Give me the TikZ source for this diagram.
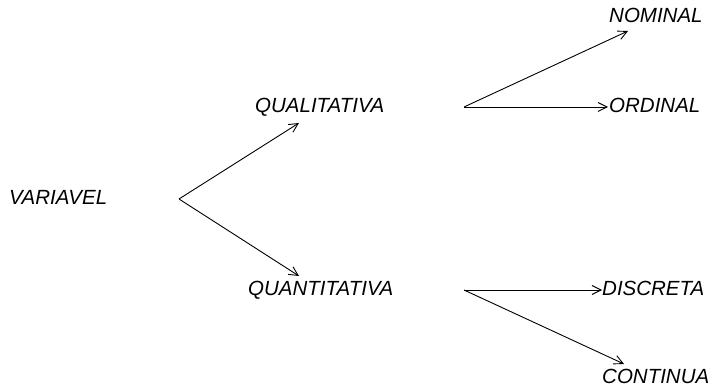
\documentclass[tikz,border=0pt]{standalone}
\usepackage{fontspec}
\setmainfont{Liberation Sans}
\usetikzlibrary{arrows.meta}
\begin{document}
\begin{tikzpicture}[x=1pt,y=-1pt,
  lbl/.style={anchor=base west,inner sep=0pt,font=\fontsize{20.5}{20.5}\selectfont\itshape},
  conn/.style={line width=0.9pt,-{Straight Barb[length=9pt,width=9pt,line width=0.9pt]}}]
\useasboundingbox (0,0) rectangle (713,387);
\node[lbl] (var) at (9,205) {VARIAVEL};
\node[lbl] (qual) at (255,113) {QUALITATIVA};
\node[lbl] (quan) at (248,296) {QUANTITATIVA};
\node[lbl] (nom) at (609,23) {NOMINAL};
\node[lbl] (ord) at (609,113) {ORDINAL};
\node[lbl] (dis) at (602,296) {DISCRETA};
\node[lbl] (con) at (602,384) {CONTINUA};
\coordinate (s1) at (179,199);
\coordinate (t1) at (299,123);
\coordinate (t2) at (299,276);
\coordinate (s2) at (464,107);
\coordinate (t3) at (628,31);
\coordinate (t4) at (608,107);
\coordinate (s3) at (464,290);
\coordinate (t5) at (602,290);
\coordinate (t6) at (624,364);
\draw[conn] (s1) -- (t1);
\draw[conn] (s1) -- (t2);
\draw[conn] (s2) -- (t3);
\draw[conn] (s2) -- (t4);
\draw[conn] (s3) -- (t5);
\draw[conn] (s3) -- (t6);
\end{tikzpicture}
\end{document}
